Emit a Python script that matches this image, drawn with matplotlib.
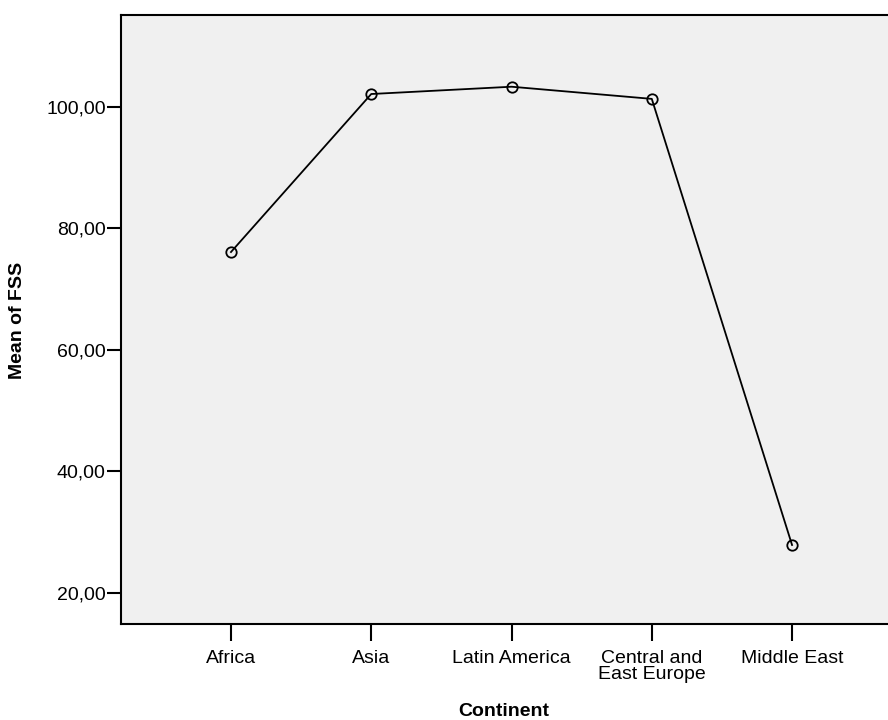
import matplotlib
matplotlib.use("Agg")
import matplotlib.pyplot as plt

continents = ["Africa", "Asia", "Latin America", "Central and\nEast Europe", "Middle East"]
mean_fss = [76.1, 102.1, 103.3, 101.3, 27.9]
y_ticks = [20, 40, 60, 80, 100]
y_tick_labels = ["20,00", "40,00", "60,00", "80,00", "100,00"]

plt.rcParams["font.family"] = ["Liberation Sans", "DejaVu Sans"]

fig = plt.figure(figsize=(8.88, 7.2), dpi=100)
ax = fig.add_axes([121 / 888, 1 - 624 / 720, 1 - 121 / 888, (624 - 15) / 720])
ax.set_facecolor("#f0f0f0")

x = list(range(len(continents)))
ax.plot(x, mean_fss, color="black", linewidth=1.3, marker="o", markersize=7.5,
        markerfacecolor="none", markeredgecolor="black", markeredgewidth=1.3)

ax.set_xlim(-0.784, 4.684)
ax.set_ylim(14.9, 115.1)
ax.set_xticks(x)
ax.set_xticklabels(continents, fontsize=14, linespacing=0.9, va="top")
ax.set_yticks(y_ticks)
ax.set_yticklabels(y_tick_labels, fontsize=14)
ax.tick_params(axis="y", length=10, width=1.5, pad=1)
ax.tick_params(axis="x", length=12, width=1.5, pad=7)

for side in ["left", "bottom", "top"]:
    ax.spines[side].set_linewidth(1.5)
ax.spines["right"].set_visible(False)

fig.text(504 / 888, 1 - 712 / 720, "Continent", fontsize=14, fontweight="bold",
         ha="center", va="center")
fig.text(18 / 888, 1 - 320 / 720, "Mean of FSS", fontsize=14, fontweight="bold",
         ha="center", va="center", rotation=90)

fig.savefig("out.png", dpi=100)
